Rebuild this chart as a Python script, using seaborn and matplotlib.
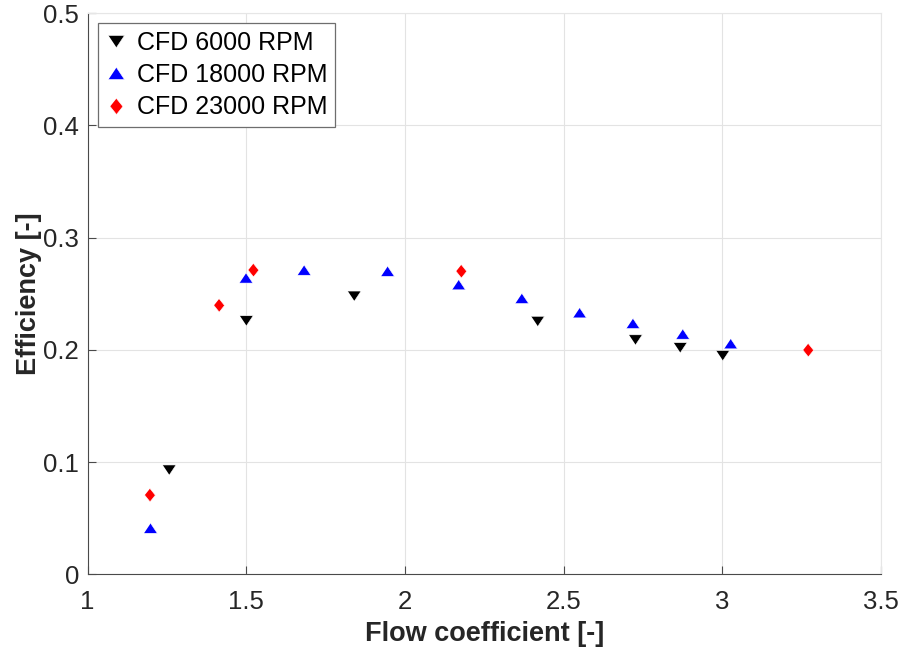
import matplotlib
matplotlib.use("Agg")
import matplotlib.pyplot as plt
import seaborn as sns
import pandas as pd

# ---- data ----
series_names = ["CFD 6000 RPM", "CFD 18000 RPM", "CFD 23000 RPM"]

x_6000 = [1.258, 1.501, 1.841, 2.419, 2.727, 2.868, 3.002]
y_6000 = [0.093, 0.226, 0.248, 0.2255, 0.209, 0.202, 0.195]

x_18000 = [1.199, 1.500, 1.683, 1.946, 2.170, 2.369, 2.551, 2.719, 2.876, 3.027]
y_18000 = [0.041, 0.264, 0.271, 0.270, 0.258, 0.2458, 0.233, 0.2235, 0.214, 0.2054]

x_23000 = [1.197, 1.415, 1.523, 2.178, 3.271]
y_23000 = [0.0705, 0.2396, 0.271, 0.270, 0.1997]

x_ticks = [1, 1.5, 2, 2.5, 3, 3.5]
x_tick_labels = ["1", "1.5", "2", "2.5", "3", "3.5"]
y_ticks = [0, 0.1, 0.2, 0.3, 0.4, 0.5]
y_tick_labels = ["0", "0.1", "0.2", "0.3", "0.4", "0.5"]

df = pd.concat([
    pd.DataFrame({"x": x_6000, "y": y_6000, "series": series_names[0]}),
    pd.DataFrame({"x": x_18000, "y": y_18000, "series": series_names[1]}),
    pd.DataFrame({"x": x_23000, "y": y_23000, "series": series_names[2]}),
], ignore_index=True)

# ---- style ----
sns.set_theme(style="white")
plt.rcParams["font.family"] = ["Liberation Sans", "DejaVu Sans"]
text_color = "#262626"

tri_down = [(-1, 0.75), (1, 0.75), (0, -0.75)]
tri_up = [(-1, -0.75), (1, -0.75), (0, 0.75)]
diamond = [(0, 1), (0.8, 0), (0, -1), (-0.8, 0)]

palette = {series_names[0]: "#000000", series_names[1]: "#0000ff", series_names[2]: "#ff0000"}
markers = {series_names[0]: tri_down, series_names[1]: tri_up, series_names[2]: diamond}

fig = plt.figure(figsize=(9.05, 6.57), dpi=100)
ax = fig.add_axes([87.5 / 905, 1 - 574.3 / 657, (881 - 87.5) / 905, (574.3 - 13.3) / 657])

sns.scatterplot(data=df, x="x", y="y", hue="series", style="series",
                palette=palette, markers=markers, s=92, linewidth=0.4,
                ax=ax, zorder=3)

ax.set_xlim(1, 3.5)
ax.set_ylim(0, 0.5)
ax.set_xticks(x_ticks)
ax.set_xticklabels(x_tick_labels)
ax.set_yticks(y_ticks)
ax.set_yticklabels(y_tick_labels)

ax.grid(True, color="#e3e3e3", linewidth=0.8, zorder=0)
ax.set_axisbelow(True)

for side in ["left", "bottom"]:
    ax.spines[side].set_color("#4a4a4a")
    ax.spines[side].set_linewidth(0.8)
for side in ["top", "right"]:
    ax.spines[side].set_color("#e6e6e6")
    ax.spines[side].set_linewidth(0.8)

ax.tick_params(axis="both", which="both", direction="in", length=5.5, width=0.8,
               color="#4a4a4a", labelsize=18.5, labelcolor=text_color,
               left=True, bottom=True, top=False, right=False)
ax.tick_params(axis="x", pad=11)
ax.tick_params(axis="y", pad=6)

ax.set_xlabel("Flow coefficient [-]", fontsize=19.5, fontweight="bold", color=text_color, labelpad=5)
ax.set_ylabel("Efficiency [-]", fontsize=19.5, fontweight="bold", color=text_color, labelpad=1)

leg = ax.legend(loc="upper left", bbox_to_anchor=(0.0136, 0.982), fontsize=18,
                frameon=True, fancybox=False, framealpha=1, edgecolor="#6e6e6e",
                borderpad=0.3, handlelength=0.8, handletextpad=0.45,
                labelspacing=0.33, borderaxespad=0, markerscale=1.2)
leg.get_frame().set_linewidth(0.9)
for t in leg.get_texts():
    t.set_color("#000000")

fig.savefig("out.png", dpi=100)
